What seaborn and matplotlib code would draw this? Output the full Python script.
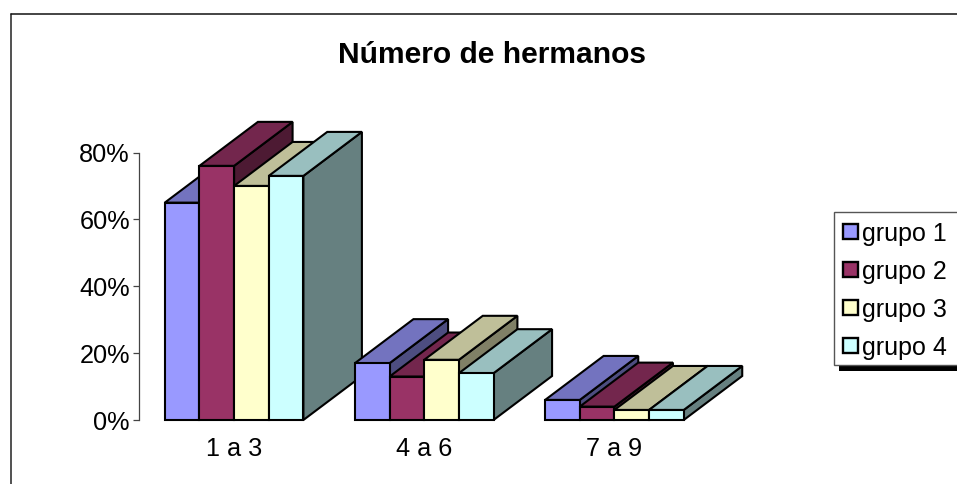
import matplotlib
matplotlib.use("Agg")
import matplotlib.pyplot as plt
from matplotlib.colors import to_rgb
from matplotlib.lines import Line2D
from matplotlib.patches import Polygon, Rectangle
from matplotlib.ticker import FuncFormatter
import pandas as pd
import seaborn as sns

# Share of respondents per number of siblings, in percent
categories = ["1 a 3", "4 a 6", "7 a 9"]
grupo_1 = [65, 17, 6]
grupo_2 = [76, 13, 4]
grupo_3 = [70, 18, 3]
grupo_4 = [73, 14, 3]
series_names = ["grupo 1", "grupo 2", "grupo 3", "grupo 4"]
series_colors = ["#9999FF", "#993366", "#FFFFCC", "#CCFFFF"]
y_ticks = [0, 20, 40, 60, 80]
title_text = "Número de hermanos"

W, H = 957, 484
EDGE = 1.5
sns.set_theme(style="white")
plt.rcParams["font.family"] = ["Liberation Sans", "DejaVu Sans"]

rows = []
for name, values in zip(series_names, [grupo_1, grupo_2, grupo_3, grupo_4]):
    for cat, val in zip(categories, values):
        rows.append({"categoria": cat, "grupo": name, "valor": val})
table = pd.DataFrame(rows)

fig = plt.figure(figsize=(W / 100, H / 100), dpi=100, facecolor="white")
# Plot area in pixels: x 139..709.5, y 152.5..420
ax = fig.add_axes([139 / W, 1 - 420 / H, (709.5 - 139) / W, (420 - 152.5) / H])
ax.patch.set_visible(False)

sns.barplot(
    data=table, x="categoria", y="valor", hue="grupo",
    order=categories, hue_order=series_names, palette=series_colors,
    width=0.729, gap=0, saturation=1, edgecolor="black", linewidth=EDGE,
    legend=False, ax=ax,
)
ax.set_xlim(-0.5, 2.5)
ax.set_ylim(0, 80)

# Oblique extrusion: each bar gets a lit top and a shaded right face
depth_x = 58.5 / ((709.5 - 139) / 3)
depth_y = 44 / ((420 - 152.5) / 80)


def shade(color, factor):
    return tuple(c * factor for c in to_rgb(color))


bars = list(ax.patches)
for s, color in enumerate(series_colors):
    for c in range(len(categories)):
        bar = bars[s * len(categories) + c]
        x0 = bar.get_x()
        x1 = x0 + bar.get_width()
        top = bar.get_height()
        order = 3 + c * 10 + s * 2
        bar.set_zorder(order + 1)
        bar.set_clip_on(False)
        side = Polygon(
            [(x1, 0), (x1 + depth_x, depth_y), (x1 + depth_x, top + depth_y), (x1, top)],
            closed=True, facecolor=shade(color, 0.5), edgecolor="black",
            linewidth=EDGE, zorder=order, clip_on=False,
        )
        cap = Polygon(
            [(x0, top), (x1, top), (x1 + depth_x, top + depth_y), (x0 + depth_x, top + depth_y)],
            closed=True, facecolor=shade(color, 0.75), edgecolor="black",
            linewidth=EDGE, zorder=order, clip_on=False,
        )
        ax.add_patch(side)
        ax.add_patch(cap)

for name in ("top", "right", "bottom"):
    ax.spines[name].set_visible(False)
ax.spines["left"].set_color("#444444")
ax.spines["left"].set_linewidth(0.9)

ax.set_xlabel("")
ax.set_ylabel("")
ax.set_yticks(y_ticks)
ax.yaxis.set_major_formatter(FuncFormatter(lambda v, _: f"{v:.0f}%"))
ax.tick_params(axis="y", left=True, length=4, width=0.9, color="#444444",
               labelsize=18.2, pad=2.5, labelcolor="black")
ax.tick_params(axis="x", bottom=False, labelsize=18.2, pad=6, labelcolor="black")

fig.text(492 / W, 1 - 55 / H, title_text, ha="center", va="center",
         fontsize=21.6, fontweight="bold", color="black")

# Outer frame runs past the right and bottom edges of the canvas
fig.add_artist(Line2D([11 / W, 11 / W], [0, 1 - 14 / H], color="#222222", lw=1.1))
fig.add_artist(Line2D([11 / W, 1], [1 - 14 / H, 1 - 14 / H], color="#111111", lw=1.1))

# Legend box, its solid drop shadow, and the entries laid over them
legend_handles = [
    Rectangle((0, 0), 1, 1, facecolor=col, edgecolor="black", linewidth=1.7)
    for col in series_colors
]
lx0, ly0, lx1, ly1 = 833.5, 212, 975, 364.5
shadow = Rectangle((839 / W, 1 - 371 / H), (lx1 - 839) / W, 7 / H,
                   transform=fig.transFigure, facecolor="black", edgecolor="none", zorder=1)
box = Rectangle((lx0 / W, 1 - ly1 / H), (lx1 - lx0) / W, (ly1 - ly0) / H,
                transform=fig.transFigure, facecolor="white", edgecolor="#555555",
                linewidth=1.0, zorder=1.5)
fig.add_artist(shadow)
fig.add_artist(box)
leg = fig.legend(
    legend_handles, series_names, loc="upper left",
    bbox_to_anchor=(lx0 / W, 1 - ly0 / H),
    fontsize=18, frameon=False, borderaxespad=0, borderpad=0.38, handlelength=0.58,
    handleheight=0.58, handletextpad=0.2, labelspacing=0.56, labelcolor="black",
)
leg.set_zorder(2)

fig.savefig("out.png", dpi=100, facecolor="white")
